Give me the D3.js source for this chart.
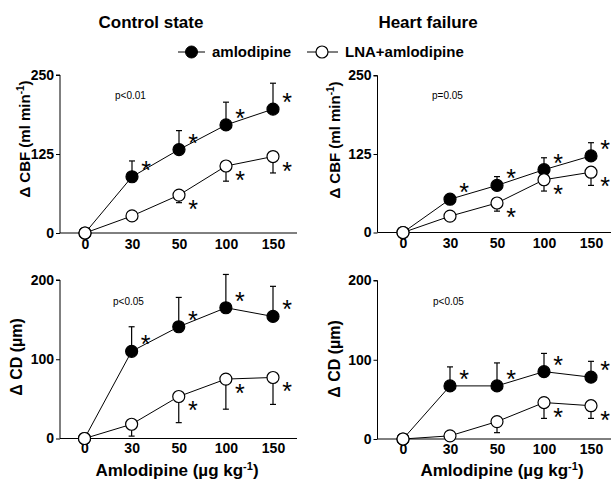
<!DOCTYPE html>
<html><head><meta charset="utf-8">
<script src="https://cdn.jsdelivr.net/npm/d3@7"></script>
<style>body{margin:0;background:#fff}svg{font-family:"Liberation Sans",Arial,sans-serif}</style>
</head><body>
<svg id="c" width="611" height="480"></svg>
<script>
const doses = ["0","30","50","100","150"];
// Control state, CBF
const cbfCtrlAml = [0, 89, 132, 171, 196];
const cbfCtrlAmlErr = [0, 25, 30, 36, 41];
const cbfCtrlLna = [0, 27, 60, 106, 121];
const cbfCtrlLnaErr = [0, 0, 12, 24, 26];
const cbfCtrlAmlStar = [0, 1, 1, 1, 1];
const cbfCtrlLnaStar = [0, 0, 1, 1, 1];
// Heart failure, CBF
const cbfHfAml = [0, 53, 75, 100, 122];
const cbfHfAmlErr = [0, 4, 14, 19, 21];
const cbfHfLna = [0, 26, 47, 84, 96];
const cbfHfLnaErr = [0, 3, 13, 18, 21];
const cbfHfAmlStar = [0, 1, 1, 1, 1];
const cbfHfLnaStar = [0, 0, 1, 1, 1];
// Control state, CD
const cdCtrlAml = [0, 110, 141, 165, 154];
const cdCtrlAmlErr = [0, 31, 37, 42, 38];
const cdCtrlLna = [0, 18, 53, 75, 77];
const cdCtrlLnaErr = [0, 15, 33, 38, 34];
const cdCtrlAmlStar = [0, 1, 1, 1, 1];
const cdCtrlLnaStar = [0, 0, 1, 1, 1];
// Heart failure, CD
const cdHfAml = [0, 67, 67, 85, 78];
const cdHfAmlErr = [0, 24, 29, 23, 20];
const cdHfLna = [0, 4, 22, 46, 42];
const cdHfLnaErr = [0, 0, 14, 20, 16];
const cdHfAmlStar = [0, 1, 1, 1, 1];
const cdHfLnaStar = [0, 0, 0, 1, 1];

const cbfTicks = [0, 125, 250];
const cdTicks = [0, 100, 200];
const pTexts = ["p<0.01", "p=0.05", "p<0.05", "p<0.05"];

const svg = d3.select("#c");
const FONT = "Liberation Sans, Arial, sans-serif";

function panel(o){
  const g = svg.append("g");
  const x = d3.scalePoint().domain(doses).range([o.x0, o.x1]);
  const y = d3.scaleLinear().domain([0, o.max]).range([o.yb, o.yt]);
  // axes
  const ya = g.append("g").attr("transform",`translate(${o.ax},0)`)
    .call(d3.axisLeft(y).tickValues(o.ticks).tickSize(4).tickPadding(2));
  ya.select(".domain").attr("stroke","#000").attr("d",`M-4,${o.yt}H0V${o.yb}`);
  ya.selectAll("text").attr("font-family",FONT).attr("font-weight","bold").attr("font-size",14).attr("fill","#000");
  const xa = g.append("g").attr("transform",`translate(0,${o.yb})`)
    .call(d3.axisBottom(x).tickSize(0).tickPadding(o.xpad));
  xa.select(".domain").attr("stroke","#000").attr("d",`M${o.ax},0H${o.xend}`);
  xa.selectAll("text").attr("font-family",FONT).attr("font-weight","bold").attr("font-size",14).attr("fill","#000");

  const series = [
    {v:o.aml, e:o.amlE, s:o.amlS, fill:"#000", dir:-1, sdy:-12},
    {v:o.lna, e:o.lnaE, s:o.lnaS, fill:"#fff", dir:1, sdy:9}
  ];
  series.forEach(sr=>{
    const pts = doses.map((d,i)=>({d, v:sr.v[i], e:sr.e[i], s:sr.s[i]}));
    // error bars
    pts.filter(p=>p.e>0).forEach(p=>{
      const yy = sr.dir<0 ? y(p.v+p.e) : y(p.v-p.e);
      g.append("line").attr("x1",x(p.d)).attr("x2",x(p.d)).attr("y1",y(p.v)).attr("y2",yy).attr("stroke","#000").attr("stroke-width",1.2);
      g.append("line").attr("x1",x(p.d)-3).attr("x2",x(p.d)+3).attr("y1",yy).attr("y2",yy).attr("stroke","#000").attr("stroke-width",1.2);
    });
    g.append("path").datum(pts).attr("fill","none").attr("stroke","#000").attr("stroke-width",1)
      .attr("d", d3.line().x(p=>x(p.d)).y(p=>y(p.v)));
    g.selectAll(null).data(pts).enter().append("circle")
      .attr("cx",p=>x(p.d)).attr("cy",p=>y(p.v)).attr("r",6)
      .attr("fill",sr.fill).attr("stroke","#000").attr("stroke-width",1.2);
    g.selectAll(null).data(pts.filter(p=>p.s)).enter().append("text")
      .attr("x",p=>x(p.d)+14).attr("y",p=>y(p.v)+sr.sdy+14)
      .attr("text-anchor","middle").attr("font-family",FONT).attr("font-size",25).attr("fill","#000")
      .text("*");
  });
  // p text
  g.append("text").attr("x",o.px).attr("y",o.py).attr("font-family",FONT).attr("font-size",10).attr("fill","#000").text(o.p);
  // y label
  const yl = g.append("text").attr("transform",`translate(${o.lx},${o.ly}) rotate(-90)`)
    .attr("text-anchor","middle").attr("font-family",FONT).attr("font-weight","bold").attr("font-size",o.lfs).attr("fill","#000");
  o.label(yl);
}

function cbfLabel(t){
  t.append("tspan").text("Δ CBF (ml min");
  t.append("tspan").attr("font-size",10).attr("dy",-6).text("-1");
  t.append("tspan").attr("dy",6).text(")");
}
function cdLabel(t){ t.text("Δ CD (µm)"); }

panel({x0:85,x1:273,ax:60,xend:297,yb:233,yt:75,max:250,ticks:cbfTicks,xpad:6,
  aml:cbfCtrlAml,amlE:cbfCtrlAmlErr,amlS:cbfCtrlAmlStar,lna:cbfCtrlLna,lnaE:cbfCtrlLnaErr,lnaS:cbfCtrlLnaStar,
  p:pTexts[0],px:115,py:99,lx:30,ly:139,lfs:15,label:cbfLabel});
panel({x0:403,x1:591,ax:377.5,xend:611,yb:232.5,yt:75.5,max:250,ticks:cbfTicks,xpad:6,
  aml:cbfHfAml,amlE:cbfHfAmlErr,amlS:cbfHfAmlStar,lna:cbfHfLna,lnaE:cbfHfLnaErr,lnaS:cbfHfLnaStar,
  p:pTexts[1],px:432,py:99,lx:340,ly:140,lfs:15,label:cbfLabel});
panel({x0:84.5,x1:273,ax:60,xend:297,yb:438.5,yt:280,max:200,ticks:cdTicks,xpad:5,
  aml:cdCtrlAml,amlE:cdCtrlAmlErr,amlS:cdCtrlAmlStar,lna:cdCtrlLna,lnaE:cdCtrlLnaErr,lnaS:cdCtrlLnaStar,
  p:pTexts[2],px:113,py:305,lx:22,ly:357,lfs:16,label:cdLabel});
panel({x0:403,x1:591,ax:377.5,xend:611,yb:439,yt:280.5,max:200,ticks:cdTicks,xpad:5,
  aml:cdHfAml,amlE:cdHfAmlErr,amlS:cdHfAmlStar,lna:cdHfLna,lnaE:cdHfLnaErr,lnaS:cdHfLnaStar,
  p:pTexts[3],px:433,py:305,lx:340,ly:359,lfs:16,label:cdLabel});

// titles
svg.append("text").attr("x",151).attr("y",28).attr("text-anchor","middle").attr("font-family",FONT).attr("font-weight","bold").attr("font-size",17).text("Control state");
svg.append("text").attr("x",428).attr("y",28).attr("text-anchor","middle").attr("font-family",FONT).attr("font-weight","bold").attr("font-size",17).text("Heart failure");

// x labels
function xlab(cx){
  const t = svg.append("text").attr("x",cx).attr("y",476).attr("text-anchor","middle").attr("font-family",FONT).attr("font-weight","bold").attr("font-size",17);
  t.append("tspan").text("Amlodipine (µg kg");
  t.append("tspan").attr("font-size",11).attr("dy",-6).text("-1");
  t.append("tspan").attr("dy",6).text(")");
}
xlab(177); xlab(502);

// legend
const lg = svg.append("g");
lg.append("line").attr("x1",178).attr("x2",205).attr("y1",52).attr("y2",52).attr("stroke","#000");
lg.append("circle").attr("cx",191.5).attr("cy",52).attr("r",6).attr("fill","#000").attr("stroke","#000");
lg.append("text").attr("x",212).attr("y",57).attr("font-family",FONT).attr("font-weight","bold").attr("font-size",15).text("amlodipine");
lg.append("line").attr("x1",307).attr("x2",338).attr("y1",52).attr("y2",52).attr("stroke","#000");
lg.append("circle").attr("cx",322).attr("cy",52).attr("r",6).attr("fill","#fff").attr("stroke","#000").attr("stroke-width",1.2);
lg.append("text").attr("x",345).attr("y",57).attr("font-family",FONT).attr("font-weight","bold").attr("font-size",15).text("LNA+amlodipine");
</script>
</body></html>
